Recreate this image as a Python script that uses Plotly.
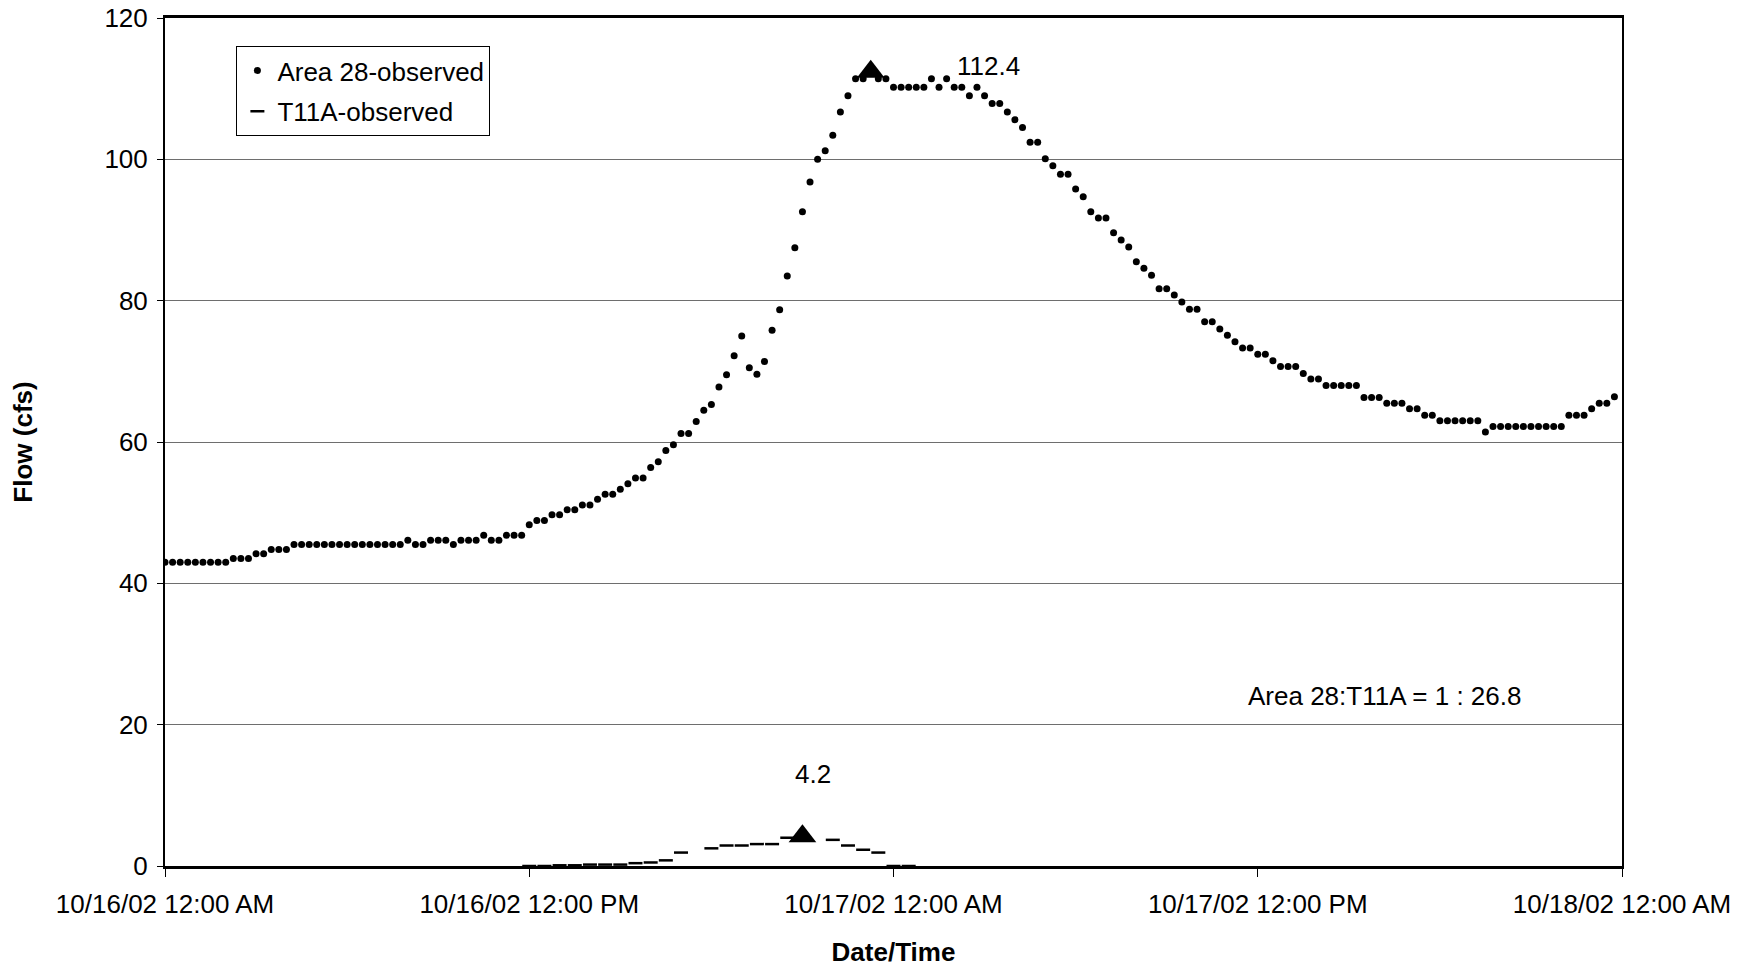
import pandas as pd
import plotly.graph_objects as go

# ---------------- data ----------------
start_time = "2002-10-16 00:00"

# Area 28-observed flow (cfs), 15-minute readings from 10/16/02 12:00 AM
area28_flow = [
    43.0, 43.0, 43.0, 43.0, 43.0, 43.0, 43.0, 43.0, 43.0, 43.5, 43.5, 43.5,
    44.2, 44.2, 44.8, 44.8, 44.8, 45.5, 45.5, 45.5, 45.5, 45.5, 45.5, 45.5,
    45.5, 45.5, 45.5, 45.5, 45.5, 45.5, 45.5, 45.5, 46.1, 45.5, 45.5, 46.1,
    46.1, 46.1, 45.5, 46.1, 46.1, 46.1, 46.8, 46.1, 46.1, 46.8, 46.8, 46.8,
    48.3, 48.9, 48.9, 49.7, 49.7, 50.4, 50.4, 51.1, 51.1, 51.9, 52.6, 52.6,
    53.3, 54.1, 54.9, 54.9, 56.4, 57.2, 58.8, 59.6, 61.2, 61.2, 62.9, 64.5,
    65.3, 67.8, 69.5, 72.2, 75.0, 70.5, 69.6, 71.4, 75.8, 78.7, 83.5, 87.5,
    92.6, 96.8, 100.0, 101.2, 103.4, 106.7, 109.0, 111.4, 111.4, 112.4, 111.4, 111.4,
    110.2, 110.2, 110.2, 110.2, 110.2, 111.4, 110.2, 111.4, 110.2, 110.2, 109.0, 110.2,
    109.0, 107.9, 107.9, 106.7, 105.6, 104.5, 102.4, 102.4, 100.1, 99.1, 97.9, 97.9,
    95.8, 94.7, 92.6, 91.7, 91.7, 89.6, 88.6, 87.6, 85.5, 84.6, 83.6, 81.7,
    81.7, 80.8, 79.8, 78.8, 78.8, 77.0, 77.0, 76.0, 75.1, 74.2, 73.3, 73.3,
    72.4, 72.4, 71.5, 70.7, 70.7, 70.7, 69.7, 68.9, 68.9, 68.0, 68.0, 68.0,
    68.0, 68.0, 66.3, 66.3, 66.3, 65.5, 65.5, 65.5, 64.7, 64.7, 63.8, 63.8,
    63.0, 63.0, 63.0, 63.0, 63.0, 63.0, 61.4, 62.2, 62.2, 62.2, 62.2, 62.2,
    62.2, 62.2, 62.2, 62.2, 62.2, 63.8, 63.8, 63.8, 64.7, 65.5, 65.5, 66.4,
]

# T11A-observed flow (cfs), 30-minute readings from 10/16/02 12:00 PM (None = no reading)
t11a_start = "2002-10-16 12:00"
t11a_flow = [
    0.0, 0.0, 0.1, 0.1, 0.2, 0.2, 0.2, 0.4, 0.5, 0.8, 1.9, None,
    2.5, 2.9, 2.9, 3.1, 3.1, 4.0, 4.2, None, 3.7, 2.9, 2.3, 1.9,
    0.0, 0.0,
]

series_names = ["Area 28-observed", "T11A-observed"]
tick_labels = [
    "10/16/02 12:00 AM",
    "10/16/02 12:00 PM",
    "10/17/02 12:00 AM",
    "10/17/02 12:00 PM",
    "10/18/02 12:00 AM",
]
y_ticks = [0, 20, 40, 60, 80, 100, 120]

# ---------------- derived ----------------
area_times = pd.date_range(start_time, periods=len(area28_flow), freq="15min")
t11a_times = pd.date_range(t11a_start, periods=len(t11a_flow), freq="30min")
tick_vals = pd.date_range(start_time, periods=len(tick_labels), freq="12h")

a_peak_i = max(range(len(area28_flow)), key=lambda i: area28_flow[i])
t_vals = [v if v is not None else -1 for v in t11a_flow]
t_peak_i = max(range(len(t_vals)), key=lambda i: t_vals[i])
a_peak = area28_flow[a_peak_i]
t_peak = t11a_flow[t_peak_i]
ratio = a_peak / t_peak

FONT = "Liberation Sans, Arial, sans-serif"
FS = 26

fig = go.Figure()
fig.add_trace(go.Scatter(
    x=area_times, y=area28_flow, mode="markers", name=series_names[0],
    marker=dict(symbol="circle", size=7, color="black"),
    legendgroup="a",
))
fig.add_trace(go.Scatter(
    x=t11a_times, y=t11a_flow, mode="markers", name=series_names[1],
    marker=dict(symbol="line-ew", size=10, color="black",
                line=dict(color="black", width=2.5)),
    legendgroup="b",
))
# peak triangles
fig.add_trace(go.Scatter(
    x=[area_times[a_peak_i], t11a_times[t_peak_i]], y=[a_peak, t_peak],
    mode="markers", showlegend=False,
    marker=dict(symbol="triangle-up", size=24, color="black"),
))

fig.add_annotation(x=area_times[a_peak_i], y=a_peak, text=f"{a_peak:.1f}",
                   showarrow=False, xanchor="left", xshift=84, yshift=6,
                   font=dict(size=FS, color="black", family=FONT))
fig.add_annotation(x=t11a_times[t_peak_i], y=t_peak, text=f"{t_peak:.1f}",
                   showarrow=False, xanchor="center", xshift=11, yshift=62,
                   font=dict(size=FS, color="black", family=FONT))
fig.add_annotation(x=0.837, y=0.2005, xref="paper", yref="paper",
                   text=f"Area 28:T11A = 1 : {ratio:.1f}", showarrow=False,
                   xanchor="center", yanchor="middle",
                   font=dict(size=FS, color="black", family=FONT))

fig.update_layout(
    width=1750, height=967,
    margin=dict(l=165, r=128, t=18, b=101),
    paper_bgcolor="white", plot_bgcolor="white",
    font=dict(family=FONT, size=FS, color="black"),
    legend=dict(x=0.049, y=0.967, xanchor="left", yanchor="top",
                bordercolor="black", borderwidth=1, bgcolor="white",
                font=dict(size=FS, family=FONT, color="black"),
                itemwidth=30, tracegroupgap=4),
)
fig.update_xaxes(
    range=[tick_vals[0], tick_vals[-1]],
    tickvals=list(tick_vals), ticktext=tick_labels,
    ticks="outside", ticklen=8, tickcolor="black", tickwidth=1,
    ticklabelstandoff=5,
    showline=True, linecolor="black", linewidth=3, mirror=True,
    showgrid=False, zeroline=False, automargin=False,
    title=dict(text="<b>Date/Time</b>", standoff=26,
               font=dict(size=FS, family=FONT, color="black")),
    tickfont=dict(size=FS, family=FONT, color="black"),
)
fig.update_yaxes(
    range=[0, 120], tickvals=y_ticks,
    ticks="outside", ticklen=6, tickcolor="black", tickwidth=1,
    ticklabelstandoff=4,
    showline=True, linecolor="black", linewidth=2, mirror=True,
    showgrid=True, gridcolor="#6e6e6e", gridwidth=1, zeroline=False,
    automargin=False,
    title=dict(text="<b>Flow (cfs)</b>", standoff=64,
               font=dict(size=FS, family=FONT, color="black")),
    tickfont=dict(size=FS, family=FONT, color="black"),
)

fig.write_html("out.html")
